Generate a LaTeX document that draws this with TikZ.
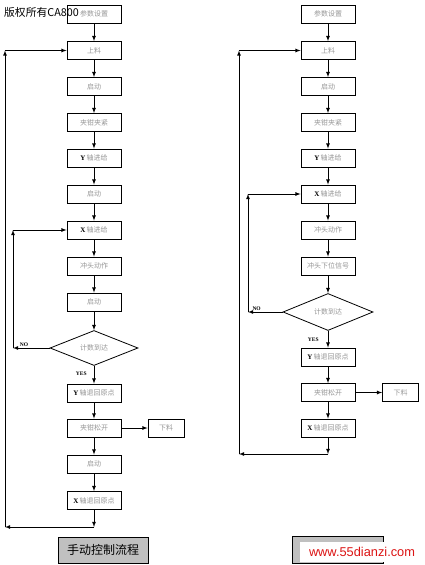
\documentclass[tikz,border=0pt]{standalone}
\usepackage{fontspec}
\setmainfont{Liberation Serif}
\newfontfamily\cjk{Noto Sans CJK SC}
\newfontfamily\webfont{Liberation Sans}
\usetikzlibrary{shapes.geometric}
\definecolor{boxtext}{RGB}{150,150,150}
\definecolor{titlegray}{RGB}{192,192,192}
\definecolor{webred}{RGB}{220,20,20}
\newcommand{\axisletter}[1]{{\rmfamily\bfseries\color{black}#1}\,}

\begin{document}
\begin{tikzpicture}[
    x=1pt, y=-1pt,
    block/.style={draw, line width=0.8pt, rectangle, align=center, minimum width=54pt, minimum height=18pt, inner sep=1pt, text=boxtext, font=\cjk\fontsize{7}{8}\selectfont},
    smallblock/.style={block, minimum width=36pt},
    decision/.style={draw, line width=0.8pt, diamond, minimum width=88pt, minimum height=35pt, inner sep=0pt, text=boxtext, font=\cjk\fontsize{7}{8}\selectfont},
    titlebox/.style={draw, line width=0.8pt, rectangle, fill=titlegray, minimum width=90pt, minimum height=26pt, font=\cjk\fontsize{12}{14}\selectfont},
    tag/.style={font=\rmfamily\bfseries\fontsize{5.5}{6}\selectfont, inner sep=1pt},
    line/.style={draw, line width=0.8pt, -latex}
]
\useasboundingbox (0,0) rectangle (424,565);

% manual flow
\node[block] (lset) at (94,14) {参数设置};
\node[block] (lload) at (94,50.5) {上料};
\node[block] (lstartA) at (94,86.5) {启动};
\node[block] (lclamp) at (94,122.5) {夹钳夹紧};
\node[block] (lyfeed) at (94,158) {\axisletter{Y}轴进给};
\node[block] (lstartB) at (94,194) {启动};
\node[block] (lxfeed) at (94,230) {\axisletter{X}轴进给};
\node[block] (lpunch) at (94,266) {冲头动作};
\node[block] (lstartC) at (94,302) {启动};
\node[decision] (lcount) at (94,348) {计数到达};
\node[block] (lyback) at (94,393) {\axisletter{Y}轴退回原点};
\node[block] (lopen) at (94,428) {夹钳松开};
\node[smallblock] (lunload) at (166,428) {下料};
\node[block] (lstartD) at (94,464) {启动};
\node[block] (lxback) at (94,500.5) {\axisletter{X}轴退回原点};

\coordinate (lnoA) at (13,348);
\coordinate (lnoB) at (13,230);
\coordinate (lendA) at (94,527);
\coordinate (lendB) at (5,527);
\coordinate (lendC) at (5,50.5);

\draw[line] (lset) -- (lload);
\draw[line] (lload) -- (lstartA);
\draw[line] (lstartA) -- (lclamp);
\draw[line] (lclamp) -- (lyfeed);
\draw[line] (lyfeed) -- (lstartB);
\draw[line] (lstartB) -- (lxfeed);
\draw[line] (lxfeed) -- (lpunch);
\draw[line] (lpunch) -- (lstartC);
\draw[line] (lstartC) -- (lcount);
\draw[line] (lcount) -- node[tag, left, pos=0.45, xshift=-6pt] {YES} (lyback);
\draw[line] (lyback) -- (lopen);
\draw[line] (lopen) -- (lunload);
\draw[line] (lopen) -- (lstartD);
\draw[line] (lstartD) -- (lxback);
\draw[line] (lcount.west) -- node[tag, above, pos=0.7] {NO} (lnoA);
\draw[line] (lnoA) -- (lnoB);
\draw[line] (lnoB) -- (lxfeed.west);
\draw[line] (lxback) -- (lendA);
\draw[line] (lendA) -- (lendB);
\draw[line] (lendB) -- (lendC);
\draw[line] (lendC) -- (lload.west);

% automatic flow
\node[block] (rset) at (328,14) {参数设置};
\node[block] (rload) at (328,50.5) {上料};
\node[block] (rstart) at (328,86.5) {启动};
\node[block] (rclamp) at (328,122.5) {夹钳夹紧};
\node[block] (ryfeed) at (328,158) {\axisletter{Y}轴进给};
\node[block] (rxfeed) at (328,194) {\axisletter{X}轴进给};
\node[block] (rpunch) at (328,230) {冲头动作};
\node[block] (rsignal) at (328,266) {冲头下位信号};
\node[decision, minimum width=90pt, minimum height=37pt] (rcount) at (328,312) {计数到达};
\node[block] (ryback) at (328,357) {\axisletter{Y}轴退回原点};
\node[block] (ropen) at (328,392.5) {夹钳松开};
\node[smallblock] (runload) at (400.5,392.5) {下料};
\node[block] (rxback) at (328,428) {\axisletter{X}轴退回原点};

\coordinate (rnoA) at (248,312);
\coordinate (rnoB) at (248,194);
\coordinate (rendA) at (328,454);
\coordinate (rendB) at (239,454);
\coordinate (rendC) at (239,50.5);

\draw[line] (rset) -- (rload);
\draw[line] (rload) -- (rstart);
\draw[line] (rstart) -- (rclamp);
\draw[line] (rclamp) -- (ryfeed);
\draw[line] (ryfeed) -- (rxfeed);
\draw[line] (rxfeed) -- (rpunch);
\draw[line] (rpunch) -- (rsignal);
\draw[line] (rsignal) -- (rcount);
\draw[line] (rcount) -- node[tag, left, pos=0.5, xshift=-8pt] {YES} (ryback);
\draw[line] (ryback) -- (ropen);
\draw[line] (ropen) -- (runload);
\draw[line] (ropen) -- (rxback);
\draw[line] (rcount.west) -- node[tag, above, pos=0.75] {NO} (rnoA);
\draw[line] (rnoA) -- (rnoB);
\draw[line] (rnoB) -- (rxfeed.west);
\draw[line] (rxback) -- (rendA);
\draw[line] (rendA) -- (rendB);
\draw[line] (rendB) -- (rendC);
\draw[line] (rendC) -- (rload.west);

% captions
\node[titlebox] (ltitle) at (103,550) {手动控制流程};
\node[titlebox, minimum width=91pt, minimum height=27pt] (rtitle) at (337.5,549.5) {};
\node[fill=white, minimum width=124pt, minimum height=20pt, inner sep=0pt, text=webred, font=\webfont\fontsize{12.8}{14}\selectfont] (site) at (362,552) {www.55dianzi.com};
\node[anchor=west, inner sep=0pt, font=\cjk\fontsize{10.8}{12}\selectfont] (mark) at (4,12) {版权所有CA800};

\end{tikzpicture}
\end{document}
